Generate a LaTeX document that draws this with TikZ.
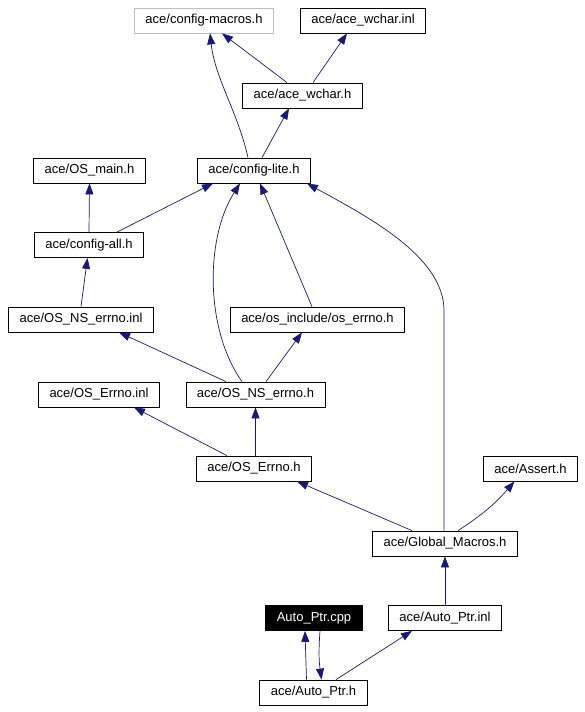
\documentclass[tikz,border=0pt]{standalone}
\usepackage{fontspec}
\setmainfont{Liberation Sans}
\usetikzlibrary{arrows.meta}
\usetikzlibrary{positioning}
\definecolor{edgeblue}{HTML}{191970}
\definecolor{missgray}{HTML}{BFBFBF}

\begin{document}
\begin{tikzpicture}[x=1pt,y=-1pt,
    file node/.style={rectangle,draw=black,line width=0.8pt,fill=white,inner xsep=11pt,
      minimum height=25pt,font=\fontsize{13}{15}\selectfont},
    miss node/.style={file node,draw=missgray},
    top node/.style={file node,fill=black,text=white},
    inc/.style={-{Triangle[length=11pt,width=8pt]},draw=edgeblue,line width=0.7pt}]
   \useasboundingbox (0,0) rectangle (584,712);
   % headers
   \node[miss node] (macros) at (204,20.5) {ace/config-macros.h};
   \node[file node] (wcharinl) at (363,20.5) {ace/ace\_wchar.inl};
   \node[file node] (wchar) at (302.5,95.5) {ace/ace\_wchar.h};
   \node[file node] (osmain) at (89.5,170.5) {ace/OS\_main.h};
   \node[file node] (lite) at (254,170.5) {ace/config-lite.h};
   \node[file node] (all) at (89,245) {ace/config-all.h};
   \node[file node] (nserrnoinl) at (81,319.5) {ace/OS\_NS\_errno.inl};
   \node[file node] (oserrno) at (317.5,319.5) {ace/os\_include/os\_errno.h};
   \node[file node] (errnoinl) at (99,394.5) {ace/OS\_Errno.inl};
   \node[file node] (nserrno) at (255.5,394.5) {ace/OS\_NS\_errno.h};
   \node[file node] (errno) at (254,468.5) {ace/OS\_Errno.h};
   \node[file node] (assert) at (530.5,468.5) {ace/Assert.h};
   \node[file node] (global) at (445,543.5) {ace/Global\_Macros.h};
   \node[top node] (cpp) at (314,618) {Auto\_Ptr.cpp};
   \node[file node] (inl) at (445,618) {ace/Auto\_Ptr.inl};
   \node[file node] (ptrh) at (313.5,692.5) {ace/Auto\_Ptr.h};
   % includes
   \draw[inc] ([xshift=-15.5pt]wchar.north) -- ([xshift=18pt]macros.south);
   \draw[inc] ([xshift=10.5pt]wchar.north) -- ([xshift=-16pt]wcharinl.south);
   \draw[inc] ([xshift=-6pt]lite.north) .. controls +(-10,-45) and +(5,45) .. ([xshift=6pt]macros.south);
   \draw[inc] ([xshift=8pt]lite.north) -- ([xshift=-13.5pt]wchar.south);
   \draw[inc] (all.north) -- (osmain.south);
   \draw[inc] ([xshift=28pt]all.north) -- ([xshift=-41pt]lite.south);
   \draw[inc] (nserrnoinl.north) -- ([xshift=-1.5pt]all.south);
   \draw[inc] ([xshift=-13.5pt]nserrno.north) .. controls +(-37,-52) and +(-35,55) .. ([xshift=-14pt]lite.south);
   \draw[inc] ([xshift=-5.5pt]oserrno.north) -- ([xshift=6pt]lite.south);
   \draw[inc] ([xshift=-1pt]global.north) -- ++(0,-220) .. controls +(0,-55) and +(58,32) .. ([xshift=53pt]lite.south);
   \draw[inc] ([xshift=-29.5pt]nserrno.north) -- ([xshift=38pt]nserrnoinl.south);
   \draw[inc] ([xshift=10.5pt]nserrno.north) -- ([xshift=-15.5pt]oserrno.south);
   \draw[inc] ([xshift=-27pt]errno.north) -- ([xshift=35pt]errnoinl.south);
   \draw[inc] ([xshift=1.5pt]errno.north) -- (nserrno.south);
   \draw[inc] ([xshift=-33pt]global.north) -- ([xshift=43pt]errno.south);
   \draw[inc] ([xshift=13pt]global.north) to[bend right=8] ([xshift=-16pt]assert.south);
   \draw[inc] (inl.north) -- (global.south);
   \draw[inc] ([xshift=-7pt]ptrh.north) -- ([xshift=-9pt]cpp.south);
   \draw[inc] ([xshift=6pt]cpp.south) to[bend right=6] ([xshift=8pt]ptrh.north);
   \draw[inc] ([xshift=22.5pt]ptrh.north) -- ([xshift=-33pt]inl.south);
\end{tikzpicture}
\end{document}
